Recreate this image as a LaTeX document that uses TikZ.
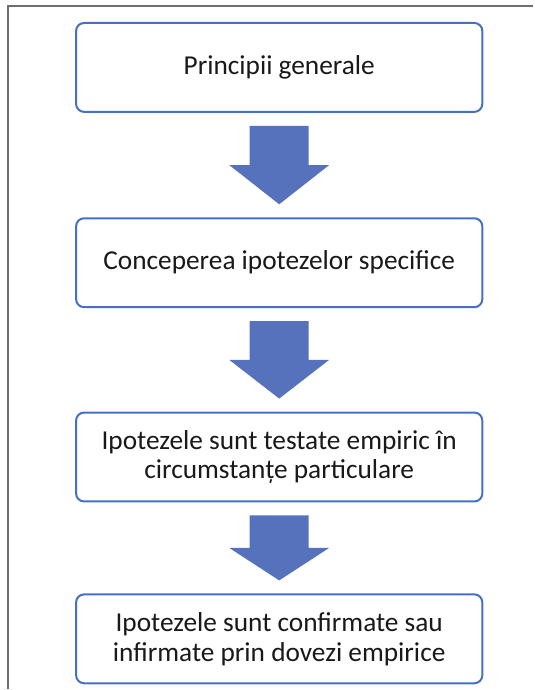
\documentclass[tikz,border=0pt]{standalone}
\usepackage{fontspec}
\setmainfont{Carlito}
\usetikzlibrary{calc}
\definecolor{boxblue}{RGB}{70,112,198}
\definecolor{arrowblue}{RGB}{86,114,188}
\definecolor{framegray}{RGB}{110,110,110}
\tikzset{
  stepbox/.style={draw=boxblue, line width=1.5pt, rounded corners=6pt, fill=white,
    minimum width=305pt, minimum height=66.75pt, align=center, text=black!90,
    font=\fontsize{20.5}{22.5}\selectfont, inner sep=0.75pt},
  flowarrow/.style={fill=arrowblue}
}
% block arrow from the bottom of one box to the top of the next
\newcommand{\blockarrow}[2]{%
  \fill[flowarrow] ($(#1.south)+(-29.5,13)$) -- ($(#1.south)+(29.5,13)$)
    -- ($(#1.south)!0.5!(#2.north)+(29.5,0)$) -- ($(#1.south)!0.5!(#2.north)+(50,0)$)
    -- ($(#2.north)+(0,-13)$)
    -- ($(#1.south)!0.5!(#2.north)+(-50,0)$) -- ($(#1.south)!0.5!(#2.north)+(-29.5,0)$) -- cycle ;}
\begin{document}
\begin{tikzpicture}[x=0.75pt,y=0.75pt,yscale=-1,xscale=1]
\path (0,0) rectangle (534,690); %set diagram left start at 0, and has height of 690

%Shape: Frame
\draw [color=framegray, line width=1.1pt] (8,690) -- (8,6) -- (534,6) ;

% Text Node
\node [stepbox] (principii) at (279.5,67.5) {Principii generale};
% Text Node
\node [stepbox] (conceperea) at (279.5,263) {Conceperea ipotezelor specifice};
% Text Node
\node [stepbox] (testate) at (279.5,457.5) {Ipotezele sunt testate empiric în\\circumstanțe particulare};
% Text Node
\node [stepbox] (confirmate) at (279.5,639.5) {Ipotezele sunt confirmate sau\\infirmate prin dovezi empirice};

%Shape: Block Arrows
\blockarrow{principii}{conceperea}
\blockarrow{conceperea}{testate}
\blockarrow{testate}{confirmate}

\end{tikzpicture}
\end{document}
